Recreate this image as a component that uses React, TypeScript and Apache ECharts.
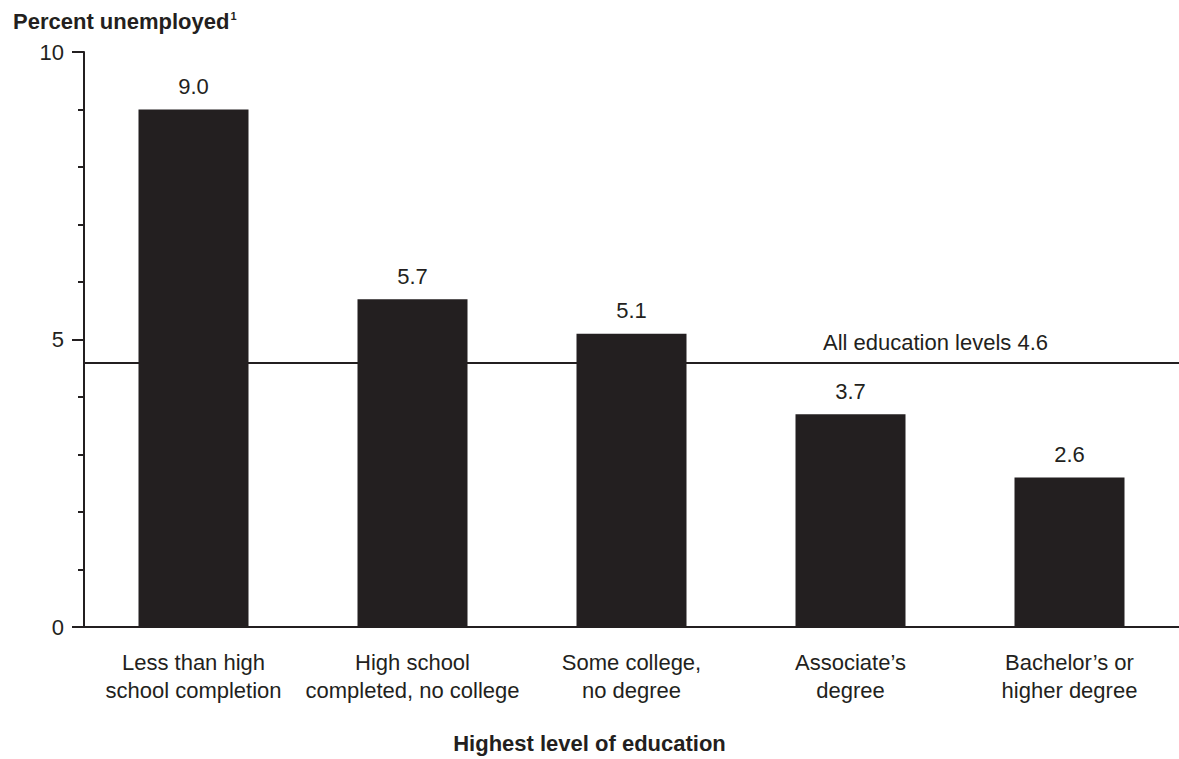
import React, { useEffect, useRef } from "react";
import * as echarts from "echarts";

const categories = [
  "Less than high\nschool completion",
  "High school\ncompleted, no college",
  "Some college,\nno degree",
  "Associate’s\ndegree",
  "Bachelor’s or\nhigher degree",
];
const values = [9.0, 5.7, 5.1, 3.7, 2.6];
const allLevels = 4.6;
const allLevelsLabel = "All education levels";
const yTitle = "Percent unemployed";
const xTitle = "Highest level of education";

const INK = "#231f20";
const FONT = "'Liberation Sans', Arial, Helvetica, sans-serif";

export default function App() {
  const ref = useRef<HTMLDivElement>(null);
  useEffect(() => {
    if (!ref.current) return;
    const chart = echarts.init(ref.current, undefined, { renderer: "svg" });
    chart.setOption({
      animation: false,
      backgroundColor: "#ffffff",
      textStyle: { fontFamily: FONT, color: INK },
      title: [
        {
          text: yTitle + "{sup|1}",
          left: 8,
          top: 5,
          textStyle: {
            fontFamily: FONT,
            fontSize: 22,
            fontWeight: "bold",
            color: INK,
            rich: {
              sup: {
                fontFamily: FONT,
                fontSize: 11,
                fontWeight: "bold",
                color: INK,
                verticalAlign: "top",
                padding: [0, 0, 10, 1],
              },
            },
          },
        },
        {
          text: xTitle,
          left: "center",
          top: 732,
          padding: 0,
          textStyle: { fontFamily: FONT, fontSize: 22, fontWeight: "bold", color: INK },
        },
      ],
      grid: { left: 84, right: -13, top: 52, bottom: 132, containLabel: false },
      xAxis: {
        type: "category",
        data: categories,
        axisLine: { show: true, lineStyle: { color: INK, width: 2 } },
        axisTick: { show: false },
        axisLabel: {
          color: INK,
          fontFamily: FONT,
          fontSize: 22,
          lineHeight: 28,
          margin: 21,
          interval: 0,
        },
      },
      yAxis: {
        type: "value",
        min: 0,
        max: 10,
        interval: 5,
        splitLine: { show: false },
        axisLine: { show: true, lineStyle: { color: INK, width: 2 } },
        axisTick: { show: true, length: 12, inside: false, lineStyle: { color: INK, width: 2 } },
        minorTick: { show: true, splitNumber: 5, length: 6, lineStyle: { color: INK, width: 2 } },
        minorSplitLine: { show: false },
        axisLabel: { color: INK, fontFamily: FONT, fontSize: 22, margin: 20 },
      },
      series: [
        {
          type: "bar",
          data: values,
          barWidth: 110,
          itemStyle: { color: INK },
          label: {
            show: true,
            position: "top",
            distance: 12,
            color: INK,
            fontFamily: FONT,
            fontSize: 22,
            formatter: (p: any) => Number(p.value).toFixed(1),
          },
          markLine: {
            silent: true,
            symbol: "none",
            lineStyle: { color: INK, width: 2, type: "solid" },
            label: {
              show: true,
              position: "insideEndTop",
              distance: [131, 9],
              color: INK,
              fontFamily: FONT,
              fontSize: 22,
              formatter: () => allLevelsLabel + " " + allLevels.toFixed(1),
            },
            data: [{ yAxis: allLevels }],
          },
        },
      ],
    });
    return () => chart.dispose();
  }, []);
  return (
    <div
      ref={ref}
      style={{ position: "absolute", left: 0, top: 0, width: 1179, height: 759 }}
    />
  );
}
